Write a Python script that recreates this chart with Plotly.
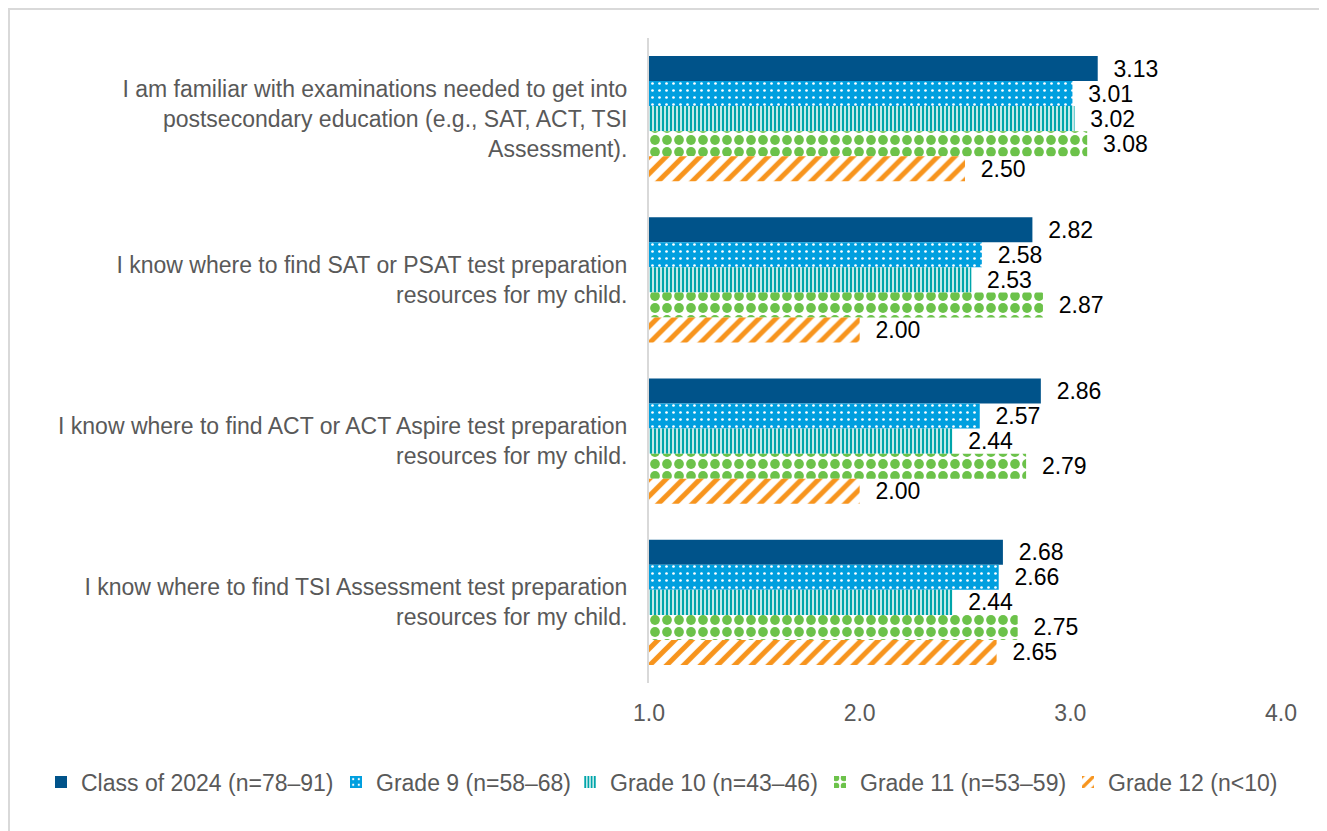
import plotly.graph_objects as go

categories = [
    "I am familiar with examinations needed to get into<br>postsecondary education (e.g., SAT, ACT, TSI<br>Assessment).",
    "I know where to find SAT or PSAT test preparation<br>resources for my child.",
    "I know where to find ACT or ACT Aspire test preparation<br>resources for my child.",
    "I know where to find TSI Assessment test preparation<br>resources for my child.",
]
series_names = [
    "Class of 2024 (n=78–91)",
    "Grade 9 (n=58–68)",
    "Grade 10 (n=43–46)",
    "Grade 11 (n=53–59)",
    "Grade 12 (n<10)",
]
class_2024 = [3.13, 2.82, 2.86, 2.68]
grade_9 = [3.01, 2.58, 2.57, 2.66]
grade_10 = [3.02, 2.53, 2.44, 2.44]
grade_11 = [3.08, 2.87, 2.79, 2.75]
grade_12 = [2.50, 2.00, 2.00, 2.65]
series_values = [class_2024, grade_9, grade_10, grade_11, grade_12]
x_tick_vals = [1, 2, 3, 4]
x_tick_text = ["1.0", "2.0", "3.0", "4.0"]

# styles
styles = [
    dict(color="#00538A", pattern=dict(shape="")),
    dict(color="#009FDF", pattern=dict(shape=".", bgcolor="#009FDF", fgcolor="#FFFFFF",
                                       size=7, solidity=0.12, fillmode="replace")),
    dict(color="#00A5AA", pattern=dict(shape="|", bgcolor="#FFFFFF", fgcolor="#00A5AA",
                                       size=4, solidity=0.62, fillmode="replace")),
    dict(color="#6CC24A", pattern=dict(shape=".", bgcolor="#FFFFFF", fgcolor="#6CC24A",
                                       size=12, solidity=0.52, fillmode="replace")),
    dict(color="#F7941D", pattern=dict(shape="/", bgcolor="#FFFFFF", fgcolor="#F7941D",
                                       size=12, solidity=0.42, fillmode="replace")),
]
legend_widths = [250, 189, 205, 203, 180]

FONT = "Liberation Sans, Arial, sans-serif"
GRAY = "#595959"
NB = "\u00a0\u00a0"

fig = go.Figure()
for name, vals, st, lw in zip(series_names, series_values, styles, legend_widths):
    fig.add_trace(go.Bar(
        y=categories, x=vals, name=name, orientation="h",
        marker=dict(color=st["color"], pattern=st["pattern"], line=dict(width=0)),
        text=[NB + f"{v:.2f}" for v in vals],
        textposition="outside",
        textfont=dict(family=FONT, size=23, color="#000000"),
        constraintext="none",
        cliponaxis=False,
        legendwidth=lw,
        hoverinfo="skip",
    ))

# the page body adds an 8px offset; figure coordinates = page coordinates - 8
OFF = 8
W, H = 1327 - OFF, 831 - OFF
L, R, T, B = 649 - OFF, 1327 - 1281, 38 - OFF, 831 - 683
pw, ph = W - L - R, H - T - B

def px_x(p):
    return (p - OFF - L) / pw

def px_y(p):
    return (H - B - (p - OFF)) / ph

fig.update_layout(
    width=W, height=H,
    margin=dict(l=L, r=R, t=T, b=B, pad=0, autoexpand=False),
    paper_bgcolor="#FFFFFF", plot_bgcolor="#FFFFFF",
    barmode="group", bargap=0.223, bargroupgap=0,
    font=dict(family=FONT, size=23, color=GRAY),
    showlegend=True,
    legend=dict(
        orientation="h", xref="paper", yref="paper",
        x=px_x(41), xanchor="left", y=px_y(782), yanchor="middle",
        font=dict(family=FONT, size=23, color=GRAY),
        traceorder="normal", itemwidth=30, bgcolor="rgba(0,0,0,0)",
    ),
    xaxis=dict(
        range=[1, 4], tickvals=x_tick_vals, ticktext=x_tick_text,
        showgrid=False, zeroline=False, showline=False,
        ticks="outside", ticklen=9, tickcolor="rgba(0,0,0,0)",
        tickfont=dict(family=FONT, size=23, color=GRAY),
    ),
    yaxis=dict(
        autorange="reversed", showgrid=False, zeroline=False,
        showline=True, linecolor="#D9D9D9", linewidth=2,
        ticks="", ticklabelstandoff=15,
        tickfont=dict(family=FONT, size=23, color=GRAY),
    ),
    shapes=[dict(
        type="rect", xref="paper", yref="paper",
        x0=px_x(9), x1=px_x(1322), y0=px_y(840), y1=px_y(9),
        line=dict(color="#D9D9D9", width=2), fillcolor="rgba(0,0,0,0)",
        layer="below",
    )],
)

fig.write_html("out.html")
